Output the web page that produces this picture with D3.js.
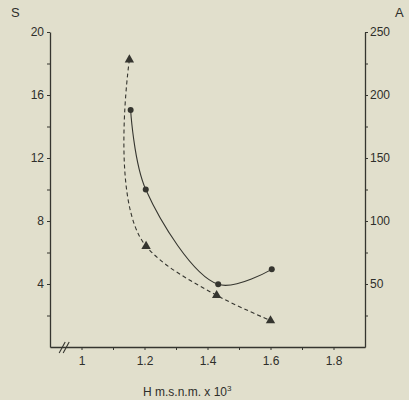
<!DOCTYPE html>
<html>
<head>
<meta charset="utf-8">
<script src="https://cdn.jsdelivr.net/npm/d3@7"></script>
<style>
  html, body { margin: 0; padding: 0; background: #e1dfcc; }
  svg { display: block; }
  text { font-family: "Liberation Sans Narrow", "Liberation Sans", Arial, sans-serif; fill: #2e2e2a; }
</style>
</head>
<body>
<svg id="chart" width="409" height="400"></svg>
<script>
// ---- data ----
const circleH = [1.156, 1.204, 1.434, 1.604];
const circleS = [15.05, 10.0, 3.98, 4.93];
const triH = [1.152, 1.205, 1.429, 1.6];
const triA = [228, 80, 41, 21];
const xTickMajor = [1, 1.2, 1.4, 1.6, 1.8];
const xTickLabels = ["1", "1.2", "1.4", "1.6", "1.8"];
const xTickMinor = [1.1, 1.3, 1.5, 1.7];
const sTickMajor = [4, 8, 12, 16, 20];
const sTickMinor = [2, 6, 10, 14, 18];
const aTickMajor = [50, 100, 150, 200, 250];
const aTickMinor = [25, 75, 125, 175, 225];

const svg = d3.select("#chart");
const ink = "#35352f";
const L = 50, R = 365, T = 32, B = 347;

const x = d3.scaleLinear().domain([0.9, 1.9]).range([L, R]);
const yS = d3.scaleLinear().domain([0, 20]).range([B, T]);
const yA = d3.scaleLinear().domain([0, 250]).range([B, T]);

function styleAxis(g) {
  g.select(".domain").attr("stroke", ink).attr("stroke-width", 1.3);
  g.selectAll(".tick line").attr("stroke", ink).attr("stroke-width", 1);
  g.selectAll(".tick text").style("font-size", "12px").attr("fill", "#2e2e2a");
}

const gx = svg.append("g").attr("transform", `translate(0,${B})`)
  .call(d3.axisBottom(x).tickValues(xTickMajor).tickFormat((d, i) => xTickLabels[i]).tickSize(3).tickSizeOuter(0).tickPadding(6));
styleAxis(gx);
svg.append("g").attr("transform", `translate(0,${B})`)
  .call(d3.axisBottom(x).tickValues(xTickMinor).tickFormat("").tickSize(3).tickSizeOuter(0))
  .call(g => { g.select(".domain").remove(); g.selectAll("line").attr("stroke", ink); });

const gl = svg.append("g").attr("transform", `translate(${L},0)`)
  .call(d3.axisLeft(yS).tickValues(sTickMajor).tickSize(3).tickSizeOuter(0).tickPadding(3));
styleAxis(gl);
svg.append("g").attr("transform", `translate(${L},0)`)
  .call(d3.axisLeft(yS).tickValues(sTickMinor).tickFormat("").tickSize(3).tickSizeOuter(0))
  .call(g => { g.select(".domain").remove(); g.selectAll("line").attr("stroke", ink); });

const gr = svg.append("g").attr("transform", `translate(${R},0)`)
  .call(d3.axisRight(yA).tickValues(aTickMajor).tickSize(3).tickSizeOuter(0).tickPadding(2));
styleAxis(gr);
svg.append("g").attr("transform", `translate(${R},0)`)
  .call(d3.axisRight(yA).tickValues(aTickMinor).tickFormat("").tickSize(3).tickSizeOuter(0))
  .call(g => { g.select(".domain").remove(); g.selectAll("line").attr("stroke", ink); });

// axis break marks
const bx = x(0.945);
[-2, 2].forEach(o => {
  svg.append("line")
    .attr("x1", bx + o - 3).attr("y1", B + 6)
    .attr("x2", bx + o + 3).attr("y2", B - 5)
    .attr("stroke", ink).attr("stroke-width", 1.1);
});

// axis titles
svg.append("text").attr("x", 11).attr("y", 17).style("font-size", "13px").text("S");
svg.append("text").attr("x", 395).attr("y", 17).style("font-size", "13px").text("A");
const t = svg.append("text").attr("x", 143).attr("y", 396).style("font-size", "12px");
t.append("tspan").text("H  m.s.n.m.  x 10");
t.append("tspan").attr("dy", -5).style("font-size", "8px").text("3");

// curves
const sPts = circleH.map((h, i) => [x(h), yS(circleS[i])]);
const aPts = triH.map((h, i) => [x(h), yA(triA[i])]);

svg.append("path").attr("d", d3.line().curve(d3.curveCatmullRom.alpha(0.5))(sPts))
  .attr("fill", "none").attr("stroke", ink).attr("stroke-width", 1.1);
svg.append("path").attr("d", d3.line().curve(d3.curveCatmullRom.alpha(1))(aPts))
  .attr("fill", "none").attr("stroke", ink).attr("stroke-width", 1.1)
  .attr("stroke-dasharray", "4,3");

// markers
svg.selectAll("circle.pt").data(sPts).enter().append("circle")
  .attr("cx", d => d[0]).attr("cy", d => d[1]).attr("r", 3).attr("fill", ink);
const tri = d3.symbol().type(d3.symbolTriangle).size(38);
svg.selectAll("path.tri").data(aPts).enter().append("path")
  .attr("d", tri).attr("transform", d => `translate(${d[0]},${d[1]})`).attr("fill", ink);
</script>
</body>
</html>
